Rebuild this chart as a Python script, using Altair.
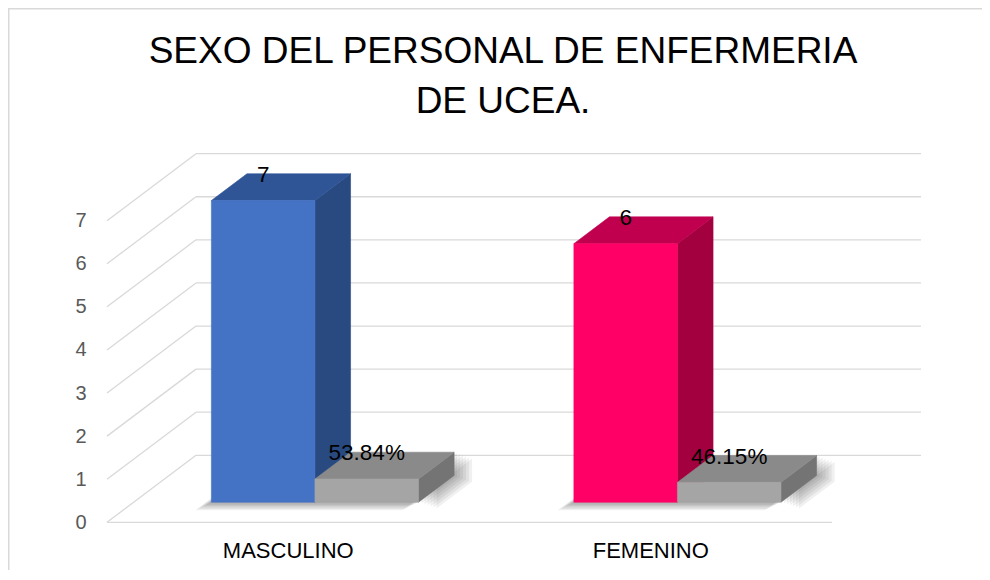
import altair as alt
import pandas as pd

# ---------------- data ----------------
categories = ["MASCULINO", "FEMENINO"]
counts = [7, 6]
shares = [0.5384, 0.4615]
share_labels = ["53.84%", "46.15%"]
y_ticks = [0, 1, 2, 3, 4, 5, 6, 7]
title_lines = ["SEXO DEL PERSONAL DE ENFERMERIA", "DE UCEA."]

# ---------------- styles ----------------
count_front = ["#4472C4", "#FF0066"]
count_top = ["#2F5597", "#C0004F"]
count_side = ["#284A80", "#A3003F"]
share_front = "#A5A5A5"
share_top = "#8A8A8A"
share_side = "#747474"
grid_color = "#D9D9D9"
FONT = "Liberation Sans"

# ---------------- layout (3-D projection) ----------------
W, H = 974, 562
PX_U = 362.5        # pixels per category unit
PX_V = 43.09        # pixels per value unit
X0 = 99.0           # pixel of u = 0 (front-left corner of floor)
Y0 = 514.3          # pixel of v = 0 (front floor edge)
DX = 89.0 / PX_U    # full depth offset, in category units
DY = 67.0 / PX_V    # full depth offset, in value units
BAR_W = 1 / 3.5     # gap width 150 %
D_FRONT, D_BACK = 0.3, 0.7
N = len(categories)
SHADOW_STEPS = [3, 6, 9, 12, 15, 18]   # blur steps, px

xdom = [-X0 / PX_U, (W - X0) / PX_U]
ydom = [(Y0 - H) / PX_V, Y0 / PX_V]
xs = alt.Scale(domain=xdom, nice=False, zero=False)
ys = alt.Scale(domain=ydom, nice=False, zero=False)
y_axis = alt.Axis(values=y_ticks, offset=-(X0 - 21), domain=False, ticks=False,
                  tickSize=0, grid=False, labelPadding=0, labelFontSize=20,
                  labelFont=FONT, labelColor="#595959", title=None, format="d")


def X(f="x"):
    return alt.X(f"{f}:Q", scale=xs, axis=None)


def Y(f="y"):
    return alt.Y(f"{f}:Q", scale=ys, axis=y_axis)


# ---------------- build bar geometry from the data ----------------
bars = []
for i in range(N):
    bars.append((i * 2, i + 0.5 - BAR_W, counts[i], count_front[i], count_top[i], count_side[i], str(counts[i])))
    bars.append((i * 2 + 1, i + 0.5, shares[i], share_front, share_top, share_side, share_labels[i]))

front_rows, top_rows, side_rows, label_rows = [], [], [], []
for bid, ul, val, cf, ct, cs, lab in bars:
    ur = ul + BAR_W
    front_rows.append(dict(id=bid, x=ul + D_FRONT * DX, x2=ur + D_FRONT * DX,
                           y=D_FRONT * DY, y2=val + D_FRONT * DY, fill=cf))
    for d in (D_FRONT, D_BACK):
        top_rows.append(dict(id=bid, y=val + d * DY, x=ul + d * DX, x2=ur + d * DX, fill=ct))
        side_rows.append(dict(id=bid, x=ur + d * DX, y=d * DY, y2=val + d * DY, fill=cs))
    label_rows.append(dict(x=ul + BAR_W / 2 + D_FRONT * DX, y=val + D_BACK * DY, text=lab))

fronts = pd.DataFrame(front_rows)
tops = pd.DataFrame(top_rows)
sides = pd.DataFrame(side_rows)
labels = pd.DataFrame(label_rows)

# ---------------- soft shadows (stacked translucent copies) ----------------
sh_side_rows, sh_foot_rows = [], []
for i in range(N):
    ur = i + 0.5 + BAR_W
    ul = i + 0.5 - BAR_W
    val = shares[i]
    for k, s in enumerate(SHADOW_STEPS):
        sx, sy = s / PX_U, 0.35 * s / PX_V
        for d in (D_FRONT, D_BACK):
            sh_side_rows.append(dict(id=f"{i}-{k}", x=ur + d * DX + sx,
                                     y=d * DY - sy, y2=val + d * DY - sy))
        fx, fy = 0.9 * s / PX_U, 0.45 * s / PX_V
        for d in (D_FRONT, D_BACK):
            sh_foot_rows.append(dict(id=f"{i}-{k}", y=d * DY - fy,
                                     x=ul + d * DX - fx, x2=ur + d * DX - fx))
sh_side = pd.DataFrame(sh_side_rows)
sh_foot = pd.DataFrame(sh_foot_rows)

# ---------------- walls / gridlines ----------------
grid_rows = []
for v in y_ticks:
    grid_rows.append(dict(x=DX, x2=N + DX, y=v + DY, y2=v + DY))   # back wall
    grid_rows.append(dict(x=0, x2=DX, y=v, y2=v + DY))             # side wall
grid_rows.append(dict(x=0, x2=N, y=0, y2=0))                       # floor front edge
grid = pd.DataFrame(grid_rows)

cats = pd.DataFrame({"x": [i + 0.5 for i in range(N)], "cat": categories})
one = pd.DataFrame({"a": [0]})

grid_layer = alt.Chart(grid).mark_rule(color=grid_color, strokeWidth=1.3).encode(
    x=X(), x2="x2:Q", y=Y(), y2="y2:Q")

shadow_side_layer = alt.Chart(sh_side).mark_area(orient="vertical", color="#000000",
                                                  opacity=0.06).encode(
    x=X(), y=Y(), y2="y2:Q", detail="id:N")

shadow_foot_layer = alt.Chart(sh_foot).mark_area(orient="horizontal", color="#000000",
                                                  opacity=0.06).encode(
    y=Y(), x=X(), x2="x2:Q", detail="id:N")

side_layer = alt.Chart(sides).mark_area(orient="vertical", strokeWidth=0.6).encode(
    x=X(), y=Y(), y2="y2:Q", detail="id:N",
    fill=alt.Fill("fill:N", scale=None), stroke=alt.Stroke("fill:N", scale=None))

top_layer = alt.Chart(tops).mark_area(orient="horizontal", strokeWidth=0.6).encode(
    y=Y(), x=X(), x2="x2:Q", detail="id:N",
    fill=alt.Fill("fill:N", scale=None), stroke=alt.Stroke("fill:N", scale=None))

front_layer = alt.Chart(fronts).mark_rect(strokeWidth=0.6).encode(
    x=X(), x2="x2:Q", y=Y(), y2="y2:Q",
    fill=alt.Fill("fill:N", scale=None), stroke=alt.Stroke("fill:N", scale=None))

label_layer = alt.Chart(labels).mark_text(font=FONT, fontSize=22.5, color="#000000",
                                          baseline="middle", dy=1).encode(
    x=X(), y=Y(), text="text:N")

cat_layer = alt.Chart(cats).mark_text(font=FONT, fontSize=22, color="#000000",
                                      baseline="middle").encode(
    x=X(), y=alt.value(543), text="cat:N")

title_layer = alt.Chart(one).mark_text(text=title_lines, font=FONT, fontSize=37,
                                       lineHeight=50, color="#000000",
                                       baseline="alphabetic", align="center").encode(
    x=alt.value(495), y=alt.value(55.3))

border_left = alt.Chart(one).mark_rule(color=grid_color, strokeWidth=1.5).encode(
    x=alt.value(0.75), y=alt.value(0), y2=alt.value(H))
border_top = alt.Chart(one).mark_rule(color=grid_color, strokeWidth=1.5).encode(
    y=alt.value(0.75), x=alt.value(0), x2=alt.value(W))

chart = alt.layer(
    border_left, border_top, grid_layer, shadow_foot_layer, shadow_side_layer,
    side_layer, top_layer, front_layer, label_layer, cat_layer, title_layer
).properties(
    width=W, height=H, padding=0,
    autosize=alt.AutoSizeParams(type="none")
).configure_view(strokeWidth=0)

chart.save("out.html", embed_options={"renderer": "svg", "actions": False})
